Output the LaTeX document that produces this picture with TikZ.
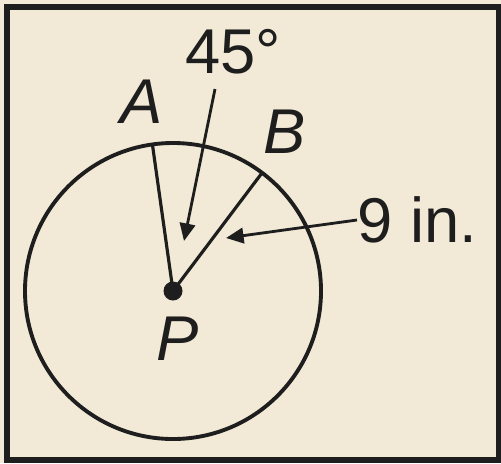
\documentclass[tikz,border=0pt]{standalone}
\usepackage{xcolor}
\usepackage{fontspec}
\setmainfont{Liberation Sans}
\usepackage{tikz}
\usetikzlibrary{arrows.meta, positioning, calc}
\definecolor{mybg}{RGB}{242,234,214}
\definecolor{mydark}{RGB}{30,30,30}
\tikzset{
  rim/.style={draw=mydark, line width=1.1pt},
  radius line/.style={draw=mydark, line width=0.9pt},
  lblarrow/.style={-{Triangle[length=5pt,width=4.4pt]}, line width=0.8pt, color=mydark},
  ptdot/.style={circle, fill=mydark, inner sep=0pt, minimum size=0.19cm},
  ptlabel/.style={font=\fontsize{18}{21}\selectfont\itshape, text=mydark, inner sep=0pt},
  measure/.style={font=\fontsize{18}{21}\selectfont, text=mydark, inner sep=0pt}
}
\begin{document}
\begin{tikzpicture}[x=0.01cm, y=0.01cm]
  \useasboundingbox (0,0) rectangle (501,463);
  \fill[mybg] (0,0) rectangle (501,463);
  \draw[mydark, line width=1.5pt] (7,3) rectangle (499,456);

  \node[ptdot] (P) at (173,172) {};
  \draw[rim] (P.center) circle (148);
  \coordinate (A) at ($(P.center)+(98:148)$);
  \coordinate (B) at ($(P.center)+(53:148)$);
  \draw[radius line] (P.center) -- (A);
  \draw[radius line] (P.center) -- (B);

  \node[ptlabel] (lblA) at (142,361) {A};
  \node[ptlabel] (lblB) at (285,331) {B};
  \node[ptlabel] (lblP) at (178,124) {P};

  % angle label
  \node[measure] (ang) at (233,411) {45°};
  \coordinate (angtail) at (215,374);
  \coordinate (angtip) at (184,222);
  \draw[lblarrow] (angtail) -- (angtip);

  % radius label
  \node[measure, anchor=west] (rad) at (357,243) {9 in.};
  \coordinate (radtip) at (226,225);
  \draw[lblarrow] (rad.west) -- (radtip);
\end{tikzpicture}
\end{document}
